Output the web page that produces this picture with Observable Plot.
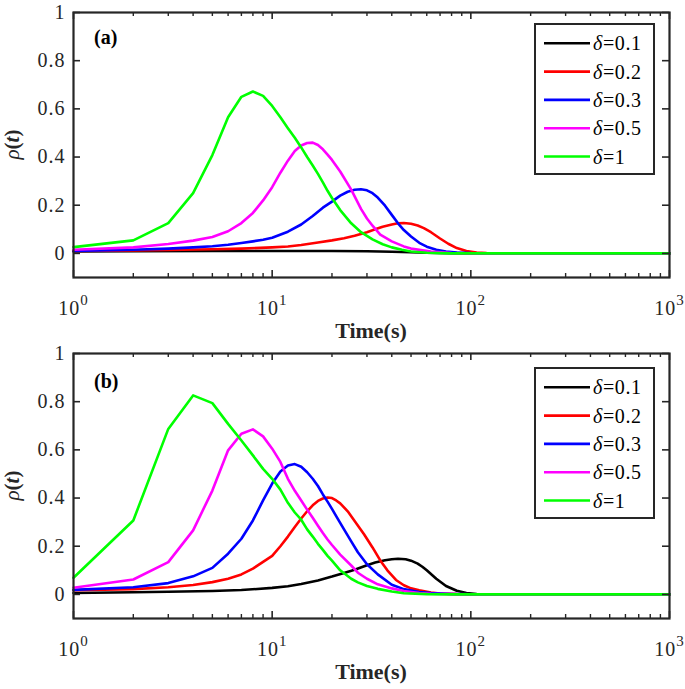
<!DOCTYPE html>
<html><head><meta charset="utf-8">
<script src="https://cdn.jsdelivr.net/npm/d3@7"></script>
<script src="https://cdn.jsdelivr.net/npm/@observablehq/plot@0.6"></script>
<style>
html,body{margin:0;padding:0;background:#fff;}
#chart{width:685px;}
#chart svg{display:block;}
#chart svg text{font-family:"Liberation Serif","Times New Roman",serif;}
</style></head><body><div id="chart"></div>
<script>
const seriesLabels = ["δ=0.1", "δ=0.2", "δ=0.3", "δ=0.5", "δ=1"];
const seriesColors = ["#000000", "#ff0000", "#0000ff", "#ff00ff", "#00ff00"];
const xTicks = [1, 10, 100, 1000];
const xMinorTicks = [2,3,4,5,6,7,8,9,20,30,40,50,60,70,80,90,200,300,400,500,600,700,800,900];
const yTicks = [0, 0.2, 0.4, 0.6, 0.8, 1];
const t1to20 = [1,2,3,4,5,6,7,8,9,10,11,12,13,14,15,16,17,18,19,20];

// ---- Panel (a) ----
const tA01 = [1,2,5,10,20,30,40,50,60,80,100,150,1000];
const rhoA01 = [0.008,0.009,0.01,0.01,0.01,0.009,0.007,0.005,0.003,0.001,0,0,0];
const tA02 = [1,2,3,5,7,10,12,14,17,20,23,26,30,33,36,40,43,46,50,54,58,63,70,77,85,95,107,120,140,1000];
const rhoA02 = [0.01,0.012,0.014,0.017,0.02,0.025,0.029,0.035,0.045,0.054,0.063,0.073,0.088,0.1,0.111,0.12,0.125,0.126,0.123,0.116,0.105,0.088,0.062,0.04,0.022,0.01,0.004,0.001,0,0];
const tA03 = [1,2,3,4,5,6,7,8,9,10,12,14,16,18,20,22,24,26,28,30,32,34,37,40,43,46,50,55,60,67,75,85,100,120,1000];
const rhoA03 = [0.01,0.015,0.02,0.025,0.03,0.036,0.043,0.05,0.057,0.065,0.09,0.12,0.155,0.19,0.215,0.24,0.256,0.264,0.266,0.262,0.25,0.232,0.198,0.16,0.125,0.097,0.07,0.044,0.028,0.015,0.008,0.004,0.001,0,0];
const tA05 = [...t1to20, 22,25,28,30,32,35,40,46,50,63,80,100,1000];
const rhoA05 = [0.015,0.025,0.039,0.053,0.068,0.092,0.126,0.168,0.22,0.275,0.335,0.385,0.425,0.448,0.458,0.46,0.45,0.432,0.41,0.388,0.34,0.265,0.185,0.145,0.115,0.078,0.05,0.029,0.02,0.008,0.002,0,0];
const tA1 = [...t1to20, 22,25,28,32,36,40,45,50,60,70,80,1000];
const rhoA1 = [0.026,0.054,0.126,0.25,0.408,0.565,0.65,0.672,0.654,0.612,0.565,0.52,0.48,0.44,0.40,0.365,0.33,0.295,0.26,0.23,0.18,0.125,0.088,0.058,0.038,0.025,0.015,0.008,0.003,0.001,0,0];

// ---- Panel (b) ----
const tB01 = [1,2,3,5,7,10,12,14,17,20,23,26,30,33,37,40,43,47,50,54,57,60,67,75,85,95,107,120,150,1000];
const rhoB01 = [0.006,0.009,0.011,0.014,0.018,0.027,0.034,0.043,0.058,0.074,0.089,0.102,0.121,0.132,0.142,0.146,0.148,0.146,0.14,0.128,0.115,0.1,0.065,0.035,0.015,0.006,0.002,0,0,0];
const tB02 = [...t1to20, 21,22,24,26,29,32,35,38,42,46,50,55,63,70,85,100,1000];
const rhoB02 = [0.017,0.022,0.03,0.039,0.051,0.065,0.083,0.107,0.135,0.16,0.2,0.24,0.28,0.315,0.345,0.37,0.388,0.398,0.402,0.40,0.39,0.378,0.345,0.305,0.25,0.195,0.141,0.1,0.06,0.038,0.025,0.017,0.008,0.004,0.001,0,0];
const tB03 = [...t1to20, 21,23,25,27,30,34,40,46,55,63,80,100,1000];
const rhoB03 = [0.019,0.03,0.047,0.075,0.11,0.169,0.231,0.307,0.39,0.46,0.51,0.535,0.541,0.53,0.507,0.48,0.45,0.415,0.385,0.355,0.325,0.27,0.22,0.175,0.125,0.083,0.04,0.022,0.01,0.006,0.002,0,0];
const tB05 = [...t1to20, 22,25,27,30,34,40,46,55,63,80,100,1000];
const rhoB05 = [0.028,0.062,0.134,0.266,0.431,0.598,0.667,0.685,0.656,0.605,0.55,0.48,0.43,0.39,0.352,0.318,0.285,0.255,0.228,0.205,0.165,0.12,0.09,0.065,0.042,0.025,0.014,0.006,0.003,0.001,0,0];
const tB1 = [...t1to20, 22,25,27,30,34,40,46,60,80,1000];
const rhoB1 = [0.069,0.307,0.687,0.826,0.794,0.708,0.639,0.577,0.521,0.48,0.435,0.38,0.34,0.31,0.27,0.24,0.21,0.185,0.16,0.14,0.1,0.065,0.05,0.035,0.023,0.012,0.005,0.001,0,0];

function buildTable(ts, rhos) {
  return ts.flatMap((tArr, k) => tArr.map((t, i) => ({t, rho: rhos[k][i], series: seriesLabels[k]})));
}
const dataA = buildTable([tA01, tA02, tA03, tA05, tA1], [rhoA01, rhoA02, rhoA03, rhoA05, rhoA1]);
const dataB = buildTable([tB01, tB02, tB03, tB05, tB1], [rhoB01, rhoB02, rhoB03, rhoB05, rhoB1]);

const INK = "#262626";
const FONT = "Liberation Serif";

function panel(data, tag, height, marginTop, marginBottom) {
  const width = 685, marginLeft = 73, marginRight = 16;
  const innerW = width - marginLeft - marginRight;
  const innerH = height - marginTop - marginBottom;
  const plot = Plot.plot({
    width, height, marginLeft, marginRight, marginTop, marginBottom,
    style: {fontFamily: FONT, fontSize: "20px", color: INK, background: "#fff", overflow: "visible"},
    x: {type: "log", domain: [1, 1000]},
    y: {domain: [-0.1, 1]},
    color: {domain: seriesLabels, range: seriesColors},
    marks: [
      Plot.line(data, {x: "t", y: "rho", stroke: "series", z: "series", strokeWidth: 2.6}),
      Plot.tickX(xMinorTicks, {x: d => d, stroke: INK, strokeWidth: 1.4, insetTop: innerH - 4}),
      Plot.tickX(xMinorTicks, {x: d => d, stroke: INK, strokeWidth: 1.4, insetBottom: innerH - 4}),
      Plot.tickX(xTicks, {x: d => d, stroke: INK, strokeWidth: 1.6, insetTop: innerH - 7}),
      Plot.tickX(xTicks, {x: d => d, stroke: INK, strokeWidth: 1.6, insetBottom: innerH - 7}),
      Plot.tickY(yTicks, {y: d => d, stroke: INK, strokeWidth: 1.6, insetRight: innerW - 7}),
      Plot.tickY(yTicks, {y: d => d, stroke: INK, strokeWidth: 1.6, insetLeft: innerW - 7}),
      Plot.frame({stroke: INK, strokeWidth: 2.2}),
      Plot.axisX(xTicks, {tickSize: 0, tickPadding: 23, label: null, fontFamily: FONT, tickFormat: d => String(Math.round(Math.log10(d)))}),
      Plot.axisY(yTicks, {tickSize: 0, tickPadding: 8, label: null, fontFamily: FONT, tickFormat: d => String(d)})
    ]
  });
  const svg = d3.select(plot);
  svg.attr("font-family", FONT);
  svg.selectAll('g[aria-label="x-axis tick label"] text').each(function () {
    const e = this.textContent;
    const s = d3.select(this);
    s.text("10");
    s.append("tspan").attr("dy", "-10").attr("font-size", "15px").text(e);
  });
  svg.selectAll('g[aria-label="x-axis tick label"], g[aria-label="y-axis tick label"]')
    .attr("letter-spacing", "1").attr("font-family", FONT);
  // x label
  svg.append("text").attr("x", marginLeft + innerW / 2).attr("y", height - marginBottom + 61)
    .attr("font-family", FONT).attr("text-anchor", "middle").attr("font-weight", "bold")
    .attr("font-size", 22).attr("fill", INK).text("Time(s)");
  // y label
  const yl = svg.append("text").attr("transform", `translate(19,${marginTop + innerH / 2}) rotate(-90)`)
    .attr("font-family", FONT).attr("text-anchor", "middle").attr("font-size", 21).attr("fill", INK);
  yl.append("tspan").attr("font-style", "italic").text("ρ");
  yl.append("tspan").attr("font-weight", "bold").text("(");
  yl.append("tspan").attr("font-weight", "bold").attr("font-style", "italic").text("t");
  yl.append("tspan").attr("font-weight", "bold").text(")");
  // panel tag
  svg.append("text").attr("x", 94).attr("y", 44).attr("font-family", FONT).attr("text-anchor", "start")
    .attr("font-weight", "bold").attr("font-size", 20).attr("fill", "#000").text(tag);
  // legend
  const lg = svg.append("g").attr("transform", "translate(535,24)");
  lg.append("rect").attr("width", 119).attr("height", 150).attr("fill", "#fff").attr("stroke", INK).attr("stroke-width", 2);
  seriesLabels.forEach((lab, i) => {
    const y = 19.3 + i * 28.3;
    lg.append("line").attr("x1", 9).attr("x2", 55).attr("y1", y).attr("y2", y)
      .attr("stroke", seriesColors[i]).attr("stroke-width", 2.6);
    const tx = lg.append("text").attr("x", 58).attr("y", y).attr("dy", "0.35em")
      .attr("font-family", FONT).attr("text-anchor", "start").attr("font-size", 20)
      .attr("fill", "#000").attr("letter-spacing", "0.6");
    tx.append("tspan").attr("font-style", "italic").text(lab.slice(0, 1));
    tx.append("tspan").text(lab.slice(1));
  });
  return plot;
}

const root = document.getElementById("chart");
root.appendChild(panel(dataA, "(a)", 344, 12, 67));
root.appendChild(panel(dataB, "(b)", 345, 9, 71));
</script>
</body></html>
